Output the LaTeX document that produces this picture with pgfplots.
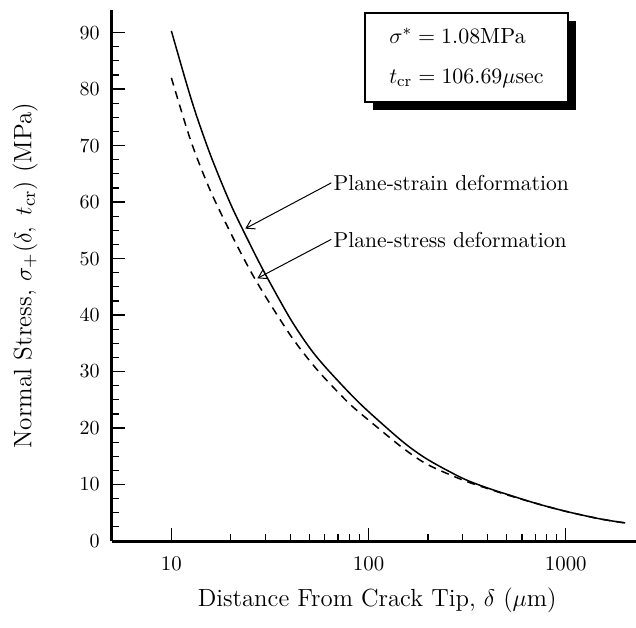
\documentclass[border=0pt]{standalone}
\usepackage{pgfplots}
\pgfplotsset{compat=1.18}
\usetikzlibrary{arrows.meta,shadows}
\begin{document}
\begin{tikzpicture}
\path[use as bounding box] (-56pt,-43pt) rectangle (262pt,270.5pt);
\begin{axis}[
  at={(0,0)}, anchor=south west,
  scale only axis, width=262pt, height=265.5pt,
  xmode=log, xmin=5, xmax=2270,
  ymin=0, ymax=94,
  axis lines=left,
  axis line style={-, line width=1.5pt},
  xtick={10,100,1000}, xticklabels={10,100,1000},
  ytick={0,10,...,90}, minor y tick num=3,
  tick align=inside,
  tick style={black, line width=0.6pt},
  major tick length=6.5pt, minor tick length=3.3pt,
  xticklabel shift=4.5pt, yticklabel shift=2.7pt,
  tick label style={font=\fontsize{10.4}{12}\selectfont},
  clip=false,
  xlabel={Distance From Crack Tip, $\delta$ ($\mu$m)},
  ylabel={Normal Stress, $\sigma_+(\delta,\ t_{\mathrm{cr}})$ (MPa)},
  xlabel style={at={(axis description cs:0.506,0)}, anchor=center, yshift=-29.5pt, font=\fontsize{12.4}{15}\selectfont},
  ylabel style={at={(axis description cs:-0.166,0.5)}, anchor=center, font=\fontsize{12.6}{15}\selectfont},
]
\addplot[black, line width=0.75pt, smooth, tension=0.5] coordinates {
(10,90.3) (12,80.7) (13.5,75.0) (16,67.8) (20,59.6) (25,52.6) (30,47.2) (40,39.4)
(50,34.3) (60,30.9) (80,26.2) (100,22.9) (150,17.5) (200,14.4) (300,11.1) (400,9.4)
(500,8.3) (700,6.7) (1000,5.25) (1500,3.9) (2000,3.2)
};
\addplot[black, line width=0.75pt, dash pattern=on 4pt off 3pt, smooth, tension=0.5] coordinates {
(10,82) (12,72.9) (13.5,67.8) (16,61.5) (20,54.5) (25,48.0) (30,43.3) (40,36.5)
(50,32.0) (60,28.8) (80,24.3) (100,21.4) (150,16.4) (200,13.5) (300,10.8) (400,9.3)
(500,8.2) (700,6.7) (1000,5.25) (1500,3.9) (2000,3.2)
};
\draw[-{Straight Barb[length=4pt,width=5pt]}, line width=0.5pt] (axis cs:64.7,63.4) -- (axis cs:23.7,55.3);
\draw[-{Straight Barb[length=4pt,width=5pt]}, line width=0.5pt] (axis cs:64.7,53.4) -- (axis cs:27.3,46.5);
\node[anchor=west, inner sep=0pt, font=\fontsize{10.8}{13}\selectfont] at (axis cs:66.2,63.4) {Plane-strain deformation};
\node[anchor=west, inner sep=0pt, font=\fontsize{10.8}{13}\selectfont] at (axis cs:66.2,53.2) {Plane-stress deformation};
\node[draw, fill=white, line width=0.6pt, minimum width=101.5pt, minimum height=44.5pt,
      drop shadow={shadow xshift=4pt, shadow yshift=-4pt, fill=black, opacity=1},
      align=left, font=\fontsize{11}{20}\selectfont]
  at (rel axis cs:0.6765,0.9105)
  {$\sigma^* = 1.08\mathrm{MPa}$\\ $t_{\mathrm{cr}} = 106.69\mu\mathrm{sec}$};
\end{axis}
\end{tikzpicture}
\end{document}
